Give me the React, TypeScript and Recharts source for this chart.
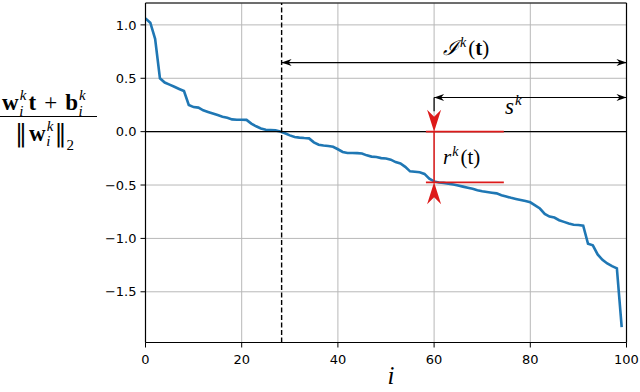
import React from 'react';
import { LineChart, Line, XAxis, YAxis, CartesianGrid, ReferenceLine } from 'recharts';

// sorted signed distances, i = 0..99
const values: number[] = [
  1.06, 1.02, 0.87, 0.5, 0.46, 0.44, 0.42, 0.4, 0.38, 0.25,
  0.23, 0.225, 0.2, 0.185, 0.17, 0.155, 0.14, 0.13, 0.115, 0.112,
  0.112, 0.11, 0.075, 0.05, 0.03, 0.018, 0.016, 0.012, 0.002, -0.015,
  -0.035, -0.05, -0.056, -0.06, -0.063, -0.1, -0.122, -0.13, -0.135, -0.142,
  -0.165, -0.19, -0.2, -0.2, -0.201, -0.205, -0.222, -0.234, -0.238, -0.248,
  -0.252, -0.262, -0.285, -0.298, -0.33, -0.372, -0.376, -0.381, -0.396, -0.44,
  -0.466, -0.476, -0.48, -0.488, -0.495, -0.505, -0.515, -0.525, -0.535, -0.548,
  -0.558, -0.565, -0.572, -0.578, -0.595, -0.608, -0.62, -0.63, -0.64, -0.65,
  -0.662, -0.69, -0.72, -0.77, -0.795, -0.805, -0.83, -0.845, -0.86, -0.872,
  -0.874, -0.88, -1.05, -1.065, -1.15, -1.2, -1.235, -1.26, -1.28, -1.83,
];
const indices: number[] = values.map((_, k) => k);
const xTicks = [0, 20, 40, 60, 80, 100];
const yTicks = [-1.5, -1, -0.5, 0, 0.5, 1];
const xDomain: [number, number] = [0, 100];
const yDomain: [number, number] = [-1.975, 1.205];

// annotation values (data coordinates)
const crossingIndex = 28.3;
const sStart = 60;
const rValue = -0.475;
const iArrowY = 0.647;
const sArrowY = 0.32;
const redBarRange: [number, number] = [58.3, 74.5];

const data = indices.map((i) => ({ i, v: values[i] }));

const RED = '#dd1a1a';
const BLUE = '#1f77b4';

function head(tx: number, ty: number, dx: number, dy: number, L: number, W: number, N: number) {
  const nx = -dy;
  const ny = dx;
  const bx = tx - L * dx;
  const by = ty - L * dy;
  const p = [
    [tx, ty],
    [bx + W * nx, by + W * ny],
    [tx - (L - N) * dx, ty - (L - N) * dy],
    [bx - W * nx, by - W * ny],
  ];
  return p.map((q) => q.join(',')).join(' ');
}

const DoubleArrow = (props: any) => {
  const { x1, y1, x2, y2 } = props;
  const len = Math.hypot(x2 - x1, y2 - y1) || 1;
  const dx = (x2 - x1) / len;
  const dy = (y2 - y1) / len;
  return (
    <g>
      <line x1={x1} y1={y1} x2={x2} y2={y2} stroke="#000" strokeWidth={1.2} />
      <polygon points={head(x2, y2, dx, dy, 10, 3.5, 3)} fill="#000" />
      <polygon points={head(x1, y1, -dx, -dy, 10, 3.5, 3)} fill="#000" />
    </g>
  );
};

const RedArrow = (props: any) => {
  const { x1, y1, x2, y2 } = props;
  const top = Math.min(y1, y2);
  const bot = Math.max(y1, y2);
  return (
    <g>
      <line x1={x1} y1={top} x2={x2} y2={bot} stroke={RED} strokeWidth={1.5} />
      <polygon points={head(x1, top, 0, 1, 22, 7, 7)} fill={RED} />
      <polygon points={head(x1, bot, 0, -1, 22, 7, 7)} fill={RED} />
    </g>
  );
};

const fmtY = (v: number) => v.toFixed(1).replace('-', '\u2212');
const tickStyle = { fill: '#000', fontSize: 13, fontFamily: 'DejaVu Sans' };

export default function App() {
  return (
    <div style={{ position: 'absolute', left: 0, top: 0, width: 640, height: 392 }}>
      <LineChart width={640} height={392} data={data} margin={{ top: 3, right: 13.5, bottom: 0, left: 0 }}>
        <CartesianGrid stroke="#b8b8b8" strokeWidth={1} />
        <XAxis
          dataKey="i"
          type="number"
          domain={xDomain}
          ticks={xTicks}
          allowDataOverflow
          height={49.5}
          tickSize={5}
          tickMargin={7}
          tick={tickStyle}
          axisLine={{ stroke: '#000', strokeWidth: 1.2 }}
          tickLine={{ stroke: '#000' }}
        />
        <YAxis
          type="number"
          domain={yDomain}
          ticks={yTicks}
          allowDataOverflow
          width={145.5}
          tickSize={5}
          tickMargin={4}
          tickFormatter={fmtY}
          tick={tickStyle}
          axisLine={{ stroke: '#000', strokeWidth: 1.2 }}
          tickLine={{ stroke: '#000' }}
        />
        <ReferenceLine y={yDomain[1]} stroke="#000" strokeWidth={1.2} />
        <ReferenceLine x={xDomain[1]} stroke="#000" strokeWidth={1.2} />
        <Line dataKey="v" stroke={BLUE} strokeWidth={2.6} dot={false} isAnimationActive={false} />
        <ReferenceLine y={0} stroke="#000" strokeWidth={1.4} />
        <ReferenceLine x={crossingIndex} stroke="#000" strokeWidth={1.4} strokeDasharray="5 2.5" />
        <ReferenceLine segment={[{ x: crossingIndex, y: iArrowY }, { x: 100, y: iArrowY }]} shape={DoubleArrow} />
        <ReferenceLine segment={[{ x: sStart, y: sArrowY }, { x: 100, y: sArrowY }]} shape={DoubleArrow} />
        <ReferenceLine segment={[{ x: sStart, y: sArrowY }, { x: sStart, y: 0.19 }]} stroke="#000" strokeWidth={1.2} />
        <ReferenceLine segment={[{ x: redBarRange[0], y: 0 }, { x: redBarRange[1], y: 0 }]} stroke={RED} strokeWidth={1.6} />
        <ReferenceLine segment={[{ x: redBarRange[0], y: rValue }, { x: redBarRange[1], y: rValue }]} stroke={RED} strokeWidth={1.6} />
        <ReferenceLine segment={[{ x: sStart, y: 0 }, { x: sStart, y: rValue }]} shape={RedArrow} />
      </LineChart>
      <svg width={640} height={392} style={{ position: 'absolute', left: 0, top: 0, pointerEvents: 'none' }}>
        <g fontFamily="Liberation Serif" fill="#000">
          {/* y label numerator */}
          <text x={2} y={110} fontSize={23}>
            <tspan fontWeight="bold">w</tspan>
            <tspan fontStyle="italic" fontSize={15} dx={1} dy={-10}>k</tspan>
            <tspan fontStyle="italic" fontSize={15} dx={-7} dy={16}>i</tspan>
            <tspan fontWeight="bold" dx={5} dy={-6}>t</tspan>
            <tspan dx={8}>+</tspan>
            <tspan fontWeight="bold" dx={8}>b</tspan>
            <tspan fontStyle="italic" fontSize={15} dx={1} dy={-10}>k</tspan>
            <tspan fontStyle="italic" fontSize={15} dx={-7} dy={16}>i</tspan>
          </text>
          <line x1={0} y1={116.5} x2={97} y2={116.5} stroke="#000" strokeWidth={1} />
          {/* denominator */}
          <text x={15} y={141} fontSize={23}>
            <tspan fontFamily="DejaVu Serif" fontSize={24}>‖</tspan>
            <tspan fontWeight="bold" dx={2}>w</tspan>
            <tspan fontStyle="italic" fontSize={15} dx={1} dy={-10}>k</tspan>
            <tspan fontStyle="italic" fontSize={15} dx={-7} dy={15}>i</tspan>
            <tspan fontFamily="DejaVu Serif" fontSize={24} dx={4} dy={-5}>‖</tspan>
            <tspan fontSize={15} dy={9}>2</tspan>
          </text>
          {/* x label */}
          <text x={391} y={384} fontSize={25} fontStyle="italic" textAnchor="middle">i</text>
          {/* I^k(t) */}
          <text x={443} y={55} fontSize={21}>
            <tspan fontStyle="italic">ℐ</tspan>
            <tspan fontStyle="italic" fontSize={14} dx={1} dy={-8}>k</tspan>
            <tspan dy={8} dx={2}>(</tspan>
            <tspan fontWeight="bold">t</tspan>
            <tspan>)</tspan>
          </text>
          {/* s^k */}
          <text x={505} y={114} fontSize={23}>
            <tspan fontStyle="italic">s</tspan>
            <tspan fontStyle="italic" fontSize={15} dx={1} dy={-9}>k</tspan>
          </text>
          {/* r^k(t) */}
          <text x={443} y={164} fontSize={21}>
            <tspan fontStyle="italic">r</tspan>
            <tspan fontStyle="italic" fontSize={14} dx={1} dy={-8}>k</tspan>
            <tspan dy={8} dx={2}>(t)</tspan>
          </text>
        </g>
      </svg>
    </div>
  );
}
